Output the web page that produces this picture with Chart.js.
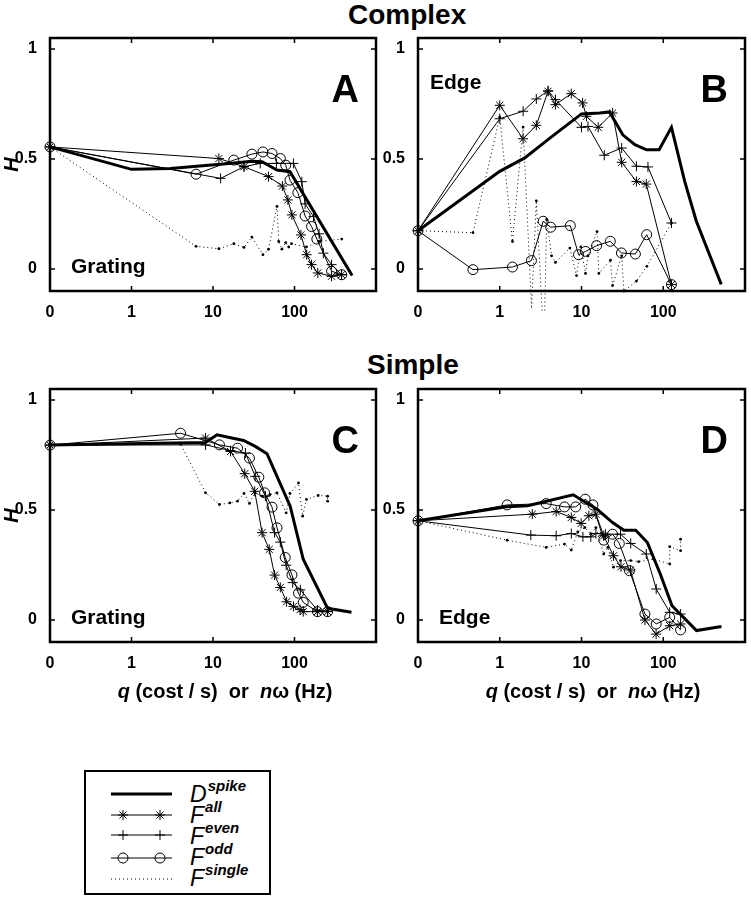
<!DOCTYPE html>
<html>
<head>
<meta charset="utf-8">
<script src="https://cdn.jsdelivr.net/npm/chart.js@4/dist/chart.umd.min.js"></script>
<style>
body { margin: 0; width: 751px; height: 900px; overflow: hidden; background: #fff; font-family: "Liberation Sans", Arial, Helvetica, sans-serif; }
.panel { position: absolute; }
.head { position: absolute; font-weight: bold; font-size: 28px; line-height: 28px; white-space: nowrap; }
.xlab { position: absolute; top: 680px; width: 326px; text-align: center; font-weight: bold; font-size: 20px; line-height: 22px; white-space: nowrap; }
#legend { position: absolute; left: 84px; top: 770px; width: 187px; height: 125px; border: 2px solid #000; box-sizing: border-box; }
#legend canvas { position: absolute; left: 0; top: 0; }
.lrow { position: absolute; left: 104px; font-style: italic; font-size: 23px; line-height: 24px; white-space: nowrap; }
.lrow span { font-weight: bold; font-size: 15px; position: relative; top: -11px; margin-left: 1px; }
</style>
</head>
<body>

<div class="head" style="left:348px; top:1px">Complex</div>
<div class="head" style="left:367px; top:351px">Simple</div>

<div class="panel" style="left:0; top:0"><canvas id="chartA" width="390" height="330"></canvas></div>
<div class="panel" style="left:368px; top:0"><canvas id="chartB" width="383" height="330"></canvas></div>
<div class="panel" style="left:0; top:350px"><canvas id="chartC" width="390" height="331"></canvas></div>
<div class="panel" style="left:368px; top:350px"><canvas id="chartD" width="383" height="331"></canvas></div>

<div class="xlab" style="left:62px"><i>q</i> (cost / s)&nbsp; or &nbsp;<i>n</i>ω (Hz)</div>
<div class="xlab" style="left:430px"><i>q</i> (cost / s)&nbsp; or &nbsp;<i>n</i>ω (Hz)</div>

<div id="legend">
<canvas id="legendCanvas" width="100" height="125"></canvas>
<div class="lrow" style="top:10px">D<span>spike</span></div>
<div class="lrow" style="top:31px">F<span>all</span></div>
<div class="lrow" style="top:52px">F<span>even</span></div>
<div class="lrow" style="top:73px">F<span>odd</span></div>
<div class="lrow" style="top:94px">F<span>single</span></div>
</div>

<script>

// q = 0 is drawn one decade below 1, like the original figure
const X_ZERO = 0.1

const X_TICKS = [0, 1, 10, 100]
const X_TICK_LABELS = ["0", "1", "10", "100"]
const Y_TICKS = [0, 0.5, 1]
const Y_TICK_LABELS = ["0", "0.5", "1"]

const LEGEND_LABELS = ["spike", "all", "even", "odd", "single"]

// ---- A : complex, grating
const A_SPIKE_Q = [0, 1, 3, 15.7, 30, 40, 61, 88, 509]
const A_SPIKE_H = [0.555, 0.453, 0.457, 0.48, 0.49, 0.488, 0.45, 0.442, -0.03]
const A_ALL_Q = [0, 11.8, 24, 48, 71, 83, 93, 120, 141, 162, 193, 285, 378]
const A_ALL_H = [0.555, 0.502, 0.465, 0.42, 0.377, 0.314, 0.246, 0.155, 0.065, 0.02, -0.018, -0.033, -0.026]
const A_EVEN_Q = [0, 12.4, 24, 38, 60, 97, 123, 135, 171, 200, 226, 285, 378]
const A_EVEN_H = [0.555, 0.412, 0.465, 0.48, 0.48, 0.48, 0.397, 0.296, 0.238, 0.16, 0.072, 0.02, -0.026]
const A_ODD_Q = [0, 6.2, 18, 30, 41, 53, 67, 78, 88, 110, 135, 162, 188, 285, 380]
const A_ODD_H = [0.555, 0.431, 0.495, 0.522, 0.532, 0.525, 0.502, 0.472, 0.404, 0.347, 0.241, 0.193, 0.136, -0.01, -0.026]
const A_SINGLE_Q = [0, 6.2, 11.8, 18, 24, 30, 41, 48, 61, 64, 70, 78, 85, 92, 140, 200, 380]
const A_SINGLE_H = [0.555, 0.103, 0.092, 0.115, 0.098, 0.145, 0.065, 0.09, 0.285, 0.125, 0.09, 0.12, 0.1, 0.115, 0.1, 0.125, 0.136]

// ---- B : complex, edge
const B_SPIKE_Q = [0, 1, 2.02, 4.1, 10, 16.7, 22, 32, 45, 62.5, 89, 126, 183, 254, 512]
const B_SPIKE_H = [0.174, 0.444, 0.505, 0.595, 0.705, 0.709, 0.714, 0.61, 0.565, 0.542, 0.542, 0.644, 0.398, 0.217, -0.07]
const B_ALL_Q = [0, 1, 1.93, 2.8, 3.9, 4.8, 7.5, 10.3, 11.5, 16, 24, 31, 47, 62, 126]
const B_ALL_H = [0.174, 0.744, 0.592, 0.653, 0.808, 0.747, 0.797, 0.755, 0.694, 0.644, 0.709, 0.485, 0.398, 0.386, -0.071]
const B_EVEN_Q = [0, 1, 1.93, 2.8, 3.9, 4.8, 10, 12, 19, 31, 47, 65, 126]
const B_EVEN_H = [0.174, 0.683, 0.717, 0.773, 0.81, 0.77, 0.644, 0.648, 0.517, 0.55, 0.467, 0.464, 0.209]
const B_ODD_Q = [0, 0.47, 1.43, 2.44, 3.4, 4.2, 7.3, 9.2, 11.2, 15.3, 22.5, 30.8, 45.6, 62.7, 126]
const B_ODD_H = [0.174, -0.003, 0.009, 0.038, 0.217, 0.19, 0.197, 0.065, 0.08, 0.106, 0.126, 0.073, 0.068, 0.156, -0.071]
const B_SINGLE_Q = [0, 0.47, 1, 1.43, 1.93, 2.45, 2.8, 3.3, 3.55, 3.75, 4.3, 4.8, 7.2, 8.7, 9.8, 11.2, 12, 15.5, 16.3, 22.6, 24, 31, 33, 47, 63, 126]
const B_SINGLE_H = [0.174, 0.165, 0.69, 0.125, 0.645, -0.18, 0.31, -0.19, -0.19, 0.225, 0.06, 0.03, 0.095, -0.03, 0.1, -0.02, 0.06, 0.17, -0.02, 0.04, -0.075, 0.06, -0.1, -0.055, 0.012, 0.21]

// ---- C : simple, grating
const C_SPIKE_Q = [0, 8.1, 11.2, 17, 23.7, 33, 46, 61, 88.5, 128, 255, 500]
const C_SPIKE_H = [0.795, 0.807, 0.842, 0.827, 0.816, 0.789, 0.756, 0.653, 0.517, 0.276, 0.053, 0.035]
const C_ALL_Q = [0, 8.1, 16.4, 24.5, 32.5, 40, 49, 57, 67, 80, 97, 117, 128, 191, 255]
const C_ALL_H = [0.795, 0.827, 0.766, 0.665, 0.585, 0.397, 0.321, 0.204, 0.148, 0.083, 0.062, 0.047, 0.038, 0.038, 0.038]
const C_EVEN_Q = [0, 8.1, 16.4, 25, 33, 44, 57, 67, 79, 95, 118, 191, 255]
const C_EVEN_H = [0.795, 0.796, 0.77, 0.759, 0.653, 0.563, 0.397, 0.354, 0.249, 0.17, 0.137, 0.045, 0.04]
const C_ODD_Q = [0, 4, 12, 20, 28, 36.5, 43, 53, 61, 77, 93, 112, 128, 191, 255]
const C_ODD_H = [0.795, 0.849, 0.796, 0.781, 0.736, 0.649, 0.578, 0.513, 0.419, 0.284, 0.205, 0.122, 0.08, 0.038, 0.038]
const C_SINGLE_Q = [0, 4, 8.1, 12, 16.1, 20, 24, 28, 32.5, 40, 50, 61, 79, 88, 112, 126, 140, 195, 255, 255]
const C_SINGLE_H = [0.795, 0.8, 0.578, 0.525, 0.532, 0.54, 0.575, 0.53, 0.578, 0.563, 0.57, 0.578, 0.487, 0.575, 0.623, 0.472, 0.548, 0.566, 0.563, 0.54]

// ---- D : simple, edge
const D_SPIKE_Q = [0, 1.2, 2.2, 7.9, 15.5, 24, 33, 46, 64, 92, 128, 255, 515]
const D_SPIKE_H = [0.451, 0.515, 0.519, 0.569, 0.504, 0.443, 0.408, 0.408, 0.352, 0.209, 0.065, -0.048, -0.03]
const D_ALL_Q = [0, 2.5, 4.9, 7.5, 9.9, 12.3, 15, 18.7, 24.6, 30.4, 39.7, 59.7, 81.8, 120, 163]
const D_ALL_H = [0.451, 0.481, 0.493, 0.466, 0.439, 0.474, 0.481, 0.383, 0.292, 0.242, 0.227, 0, -0.064, -0.026, -0.018]
const D_EVEN_Q = [0, 2.4, 4.9, 7.5, 10.4, 13, 15, 19.6, 30, 40, 62, 82, 120, 163]
const D_EVEN_H = [0.451, 0.386, 0.383, 0.393, 0.378, 0.378, 0.393, 0.39, 0.39, 0.348, 0.3, 0.141, 0.035, 0.027]
const D_ODD_Q = [0, 1.23, 3.7, 6.2, 8.5, 11.1, 13.8, 18.7, 24, 29, 38.6, 59.7, 82, 120, 163]
const D_ODD_H = [0.451, 0.523, 0.529, 0.514, 0.514, 0.549, 0.523, 0.363, 0.39, 0.348, 0.224, 0.027, -0.018, 0.012, -0.045]
const D_SINGLE_Q = [0, 1.23, 3.7, 6.2, 7.5, 9, 11, 13, 15, 18.7, 21, 24.6, 30, 40, 50, 76, 120, 120, 163, 163]
const D_SINGLE_H = [0.451, 0.363, 0.33, 0.345, 0.318, 0.4, 0.42, 0.39, 0.42, 0.3, 0.33, 0.24, 0.27, 0.27, 0.265, 0.277, 0.254, 0.333, 0.315, 0.367]


const FONT = '"Liberation Sans", Arial, Helvetica, sans-serif'

const STYLE = {
       spike: { borderWidth: 3, pointRadius: 0 },
       all: { borderWidth: 1, pointStyle: "star", pointRadius: 5, pointBorderWidth: 1 },
       even: { borderWidth: 1, pointStyle: "cross", pointRadius: 5, pointBorderWidth: 1 },
       odd: { borderWidth: 1, pointStyle: "circle", pointRadius: 5, pointBorderWidth: 1, pointBackgroundColor: "rgba(0,0,0,0)" },
       single: { borderWidth: 1, borderDash: [1, 3], pointStyle: "circle", pointRadius: 1.4, pointBorderWidth: 0, pointBackgroundColor: "#000" }
}


function toAxis(q) {
       return q === 0 ? X_ZERO : q
}

function points(qs, hs) {
       return qs.map((q, i) => ({ x: toAxis(q), y: hs[i] }))
}

function dataset(key, qs, hs) {
       return Object.assign({
              label: key,
              data: points(qs, hs),
              showLine: true,
              borderColor: "#000",
              pointBorderColor: "#000",
              tension: 0,
              clip: false
       }, STYLE[key])
}


// box, inward ticks, and the panel texts
const framePlugin = {
       id: "frame",
       afterDraw(chart, args, opts) {
              const ctx = chart.ctx
              const a = chart.chartArea
              const x = chart.scales.x
              const y = chart.scales.y

              ctx.save()
              ctx.strokeStyle = "#000"
              ctx.lineWidth = 1.5
              ctx.beginPath()
              X_TICKS.forEach(v => {
                     const p = x.getPixelForValue(toAxis(v))
                     if (p <= a.left + 1) return
                     ctx.moveTo(p, a.bottom); ctx.lineTo(p, a.bottom - 5)
                     ctx.moveTo(p, a.top); ctx.lineTo(p, a.top + 5)
              })
              Y_TICKS.forEach(v => {
                     const p = y.getPixelForValue(v)
                     ctx.moveTo(a.left, p); ctx.lineTo(a.left + 5, p)
                     ctx.moveTo(a.right, p); ctx.lineTo(a.right - 5, p)
              })
              ctx.stroke()

              ctx.lineWidth = 2.5
              ctx.strokeRect(a.left, a.top, a.right - a.left, a.bottom - a.top)

              ctx.fillStyle = "#000"
              ctx.font = "bold 38px " + FONT
              ctx.textAlign = "right"
              ctx.textBaseline = "alphabetic"
              ctx.fillText(opts.letter, a.right - 17, a.top + 64)

              ctx.font = "bold 21px " + FONT
              ctx.textAlign = "left"
              if (opts.stimTop) ctx.fillText(opts.stim, a.left + 12, a.top + 51)
              else ctx.fillText(opts.stim, a.left + 21, a.bottom - 18)
              ctx.restore()
       }
}


function drawPanel(id, letter, stim, stimTop, showTitle, padRight, padTop, series) {

       const datasets = [
              dataset("spike", series[0], series[1]),
              dataset("all", series[2], series[3]),
              dataset("even", series[4], series[5]),
              dataset("odd", series[6], series[7]),
              dataset("single", series[8], series[9])
       ]

       const tickFont = { family: FONT, size: 16, weight: "bold" }

       new Chart(document.getElementById(id), {
              type: "scatter",
              data: { datasets },
              plugins: [framePlugin],
              options: {
                     responsive: false,
                     animation: false,
                     layout: { padding: { left: 0, right: padRight, top: padTop, bottom: 0 } },
                     plugins: {
                            legend: { display: false },
                            tooltip: { enabled: false },
                            frame: { letter, stim, stimTop }
                     },
                     scales: {
                            x: {
                                   type: "logarithmic",
                                   min: X_ZERO,
                                   max: 1000,
                                   grid: { display: false },
                                   border: { display: false },
                                   afterBuildTicks: s => { s.ticks = X_TICKS.map(v => ({ value: toAxis(v) })) },
                                   afterFit: s => { s.height = 39 },
                                   ticks: {
                                          color: "#000",
                                          font: tickFont,
                                          padding: 4,
                                          autoSkip: false,
                                          maxRotation: 0,
                                          callback: (v, i) => X_TICK_LABELS[i]
                                   }
                            },
                            y: {
                                   min: -0.1,
                                   max: 1.05,
                                   grid: { display: false },
                                   border: { display: false },
                                   afterBuildTicks: s => { s.ticks = Y_TICKS.map(v => ({ value: v })) },
                                   afterFit: s => { s.width = 50 },
                                   title: {
                                          display: showTitle,
                                          text: "H",
                                          color: "#000",
                                          padding: 0,
                                          font: { family: FONT, size: 20, weight: "bold", style: "italic" }
                                   },
                                   ticks: {
                                          color: "#000",
                                          font: tickFont,
                                          padding: 5,
                                          callback: (v, i) => Y_TICK_LABELS[i]
                                   }
                            }
                     }
              }
       })
}


function drawLegend() {
       const ctx = document.getElementById("legendCanvas").getContext("2d")
       const rows = [22, 43, 63, 86, 107]
       const x0 = 25, x1 = 86

       LEGEND_LABELS.forEach((key, i) => {
              const st = STYLE[key]
              const yy = rows[i]
              ctx.save()
              ctx.strokeStyle = "#000"
              ctx.lineWidth = st.borderWidth
              ctx.setLineDash(st.borderDash || [])
              ctx.beginPath()
              ctx.moveTo(x0, yy)
              ctx.lineTo(x1, yy)
              ctx.stroke()
              ctx.setLineDash([])
              if (st.pointRadius > 0 && key !== "single") {
                     [37, 74].forEach(px => {
                            ctx.strokeStyle = "#000"
                            ctx.fillStyle = st.pointBackgroundColor || "#000"
                            ctx.lineWidth = 1
                            Chart.helpers.drawPoint(ctx, { pointStyle: st.pointStyle, radius: st.pointRadius, rotation: 0, borderWidth: 1 }, px, yy)
                     })
              }
              ctx.restore()
       })
}


drawPanel("chartA", "A", "Grating", false, true, 14, 38,
       [A_SPIKE_Q, A_SPIKE_H, A_ALL_Q, A_ALL_H, A_EVEN_Q, A_EVEN_H, A_ODD_Q, A_ODD_H, A_SINGLE_Q, A_SINGLE_H])

drawPanel("chartB", "B", "Edge", true, false, 6, 38,
       [B_SPIKE_Q, B_SPIKE_H, B_ALL_Q, B_ALL_H, B_EVEN_Q, B_EVEN_H, B_ODD_Q, B_ODD_H, B_SINGLE_Q, B_SINGLE_H])

drawPanel("chartC", "C", "Grating", false, true, 14, 39,
       [C_SPIKE_Q, C_SPIKE_H, C_ALL_Q, C_ALL_H, C_EVEN_Q, C_EVEN_H, C_ODD_Q, C_ODD_H, C_SINGLE_Q, C_SINGLE_H])

drawPanel("chartD", "D", "Edge", false, false, 6, 39,
       [D_SPIKE_Q, D_SPIKE_H, D_ALL_Q, D_ALL_H, D_EVEN_Q, D_EVEN_H, D_ODD_Q, D_ODD_H, D_SINGLE_Q, D_SINGLE_H])

drawLegend()

</script>
</body>
</html>
